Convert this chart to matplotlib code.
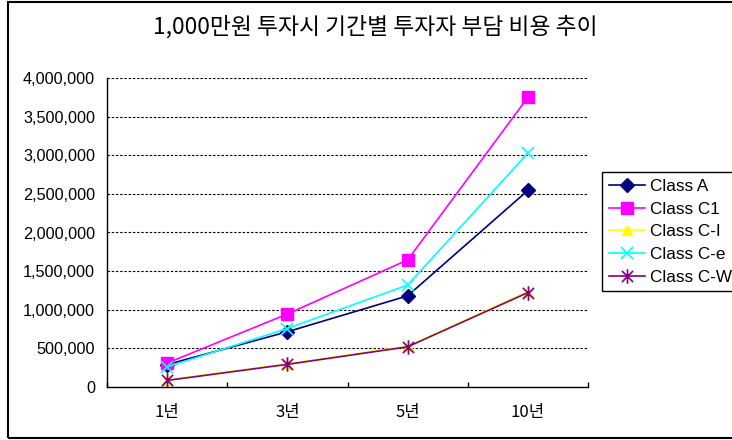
import matplotlib.pyplot as plt
from matplotlib.patches import Rectangle
from matplotlib.path import Path
from matplotlib.ticker import FuncFormatter

categories = ['1년', '3년', '5년', '10년']
class_a = [290000, 715000, 1180000, 2545000]
class_c1 = [310000, 945000, 1645000, 3750000]
class_ci = [92000, 300000, 528000, 1235000]
class_ce = [260000, 757000, 1320000, 3027000]
class_cw = [85000, 293000, 520000, 1222000]
series_names = ['Class A', 'Class C1', 'Class C-I', 'Class C-e', 'Class C-W']
y_ticks = [0, 500000, 1000000, 1500000, 2000000, 2500000, 3000000, 3500000, 4000000]

kr = ['Noto Sans CJK KR', 'DejaVu Sans']
latin = ['Liberation Sans', 'DejaVu Sans']

# Excel 스타일 별표 마커 (x + 세로선)
star = Path([(-1, -1), (1, 1), (-1, 1), (1, -1), (0, -1.3), (0, 1.3)],
            [Path.MOVETO, Path.LINETO, Path.MOVETO, Path.LINETO, Path.MOVETO, Path.LINETO])

fig = plt.figure(figsize=(7.32, 4.40), dpi=100)
fig.patch.set_facecolor('white')
ax = fig.add_axes([107 / 732, 53 / 440, 481 / 732, 309 / 440])

x = list(range(len(categories)))
ax.plot(x, class_a, color='#000080', marker='D', ms=7, lw=1.2, label=series_names[0])
ax.plot(x, class_c1, color='#FF00FF', marker='s', ms=8.5, lw=1.2, label=series_names[1])
ax.plot(x, class_ci, color='#FFFF00', marker='^', ms=7, lw=1.2, label=series_names[2])
ax.plot(x, class_ce, color='#00FFFF', marker='x', ms=9, mew=1.2, lw=1.2, label=series_names[3])
ax.plot(x, class_cw, color='#800080', marker=star, ms=10.5, mew=1.2, lw=1.2, label=series_names[4])

ax.set_xlim(-0.5, len(categories) - 0.5)
ax.set_ylim(0, 4000000)
ax.set_yticks(y_ticks)
ax.yaxis.set_major_formatter(FuncFormatter(lambda v, p: f'{int(v):,}'))
ax.tick_params(axis='y', length=0, pad=8.5, labelsize=11.7)
for lab in ax.get_yticklabels():
    lab.set_family(latin)

ax.set_xticks(x)
ax.set_xticklabels(categories, fontfamily=kr, fontsize=12, fontweight='medium')
ax.set_xticks([i - 0.5 for i in range(len(categories) + 1)], minor=True)
ax.tick_params(axis='x', which='major', length=0, pad=12)
ax.tick_params(axis='x', which='minor', direction='in', length=3.6, width=1)

ax.grid(axis='y', color='black', linestyle=(0, (2.2, 1.6)), lw=0.8)
ax.set_axisbelow(True)
for s in ['top', 'right']:
    ax.spines[s].set_visible(False)
for s in ['left', 'bottom']:
    ax.spines[s].set_linewidth(1)

fig.text(375 / 732, 1 - 27 / 440, '1,000만원 투자시 기간별 투자자 부담 비용 추이',
         ha='center', va='center', fontsize=16.4, family=kr)

leg = fig.legend(loc='upper left', bbox_to_anchor=(602 / 732, 1 - 172 / 440),
                 bbox_transform=fig.transFigure, borderaxespad=0,
                 prop={'family': latin, 'size': 12.3}, handlelength=2.1,
                 labelspacing=0.45, handletextpad=0.3, borderpad=0.4,
                 fancybox=False, edgecolor='black', framealpha=1)
leg.get_frame().set_linewidth(1)

fig.add_artist(Rectangle((8 / 732, 2 / 440), 1.0, 436 / 440, transform=fig.transFigure,
                         fill=False, edgecolor='black', lw=1.5, clip_on=False))

fig.savefig('out.png', dpi=100)
